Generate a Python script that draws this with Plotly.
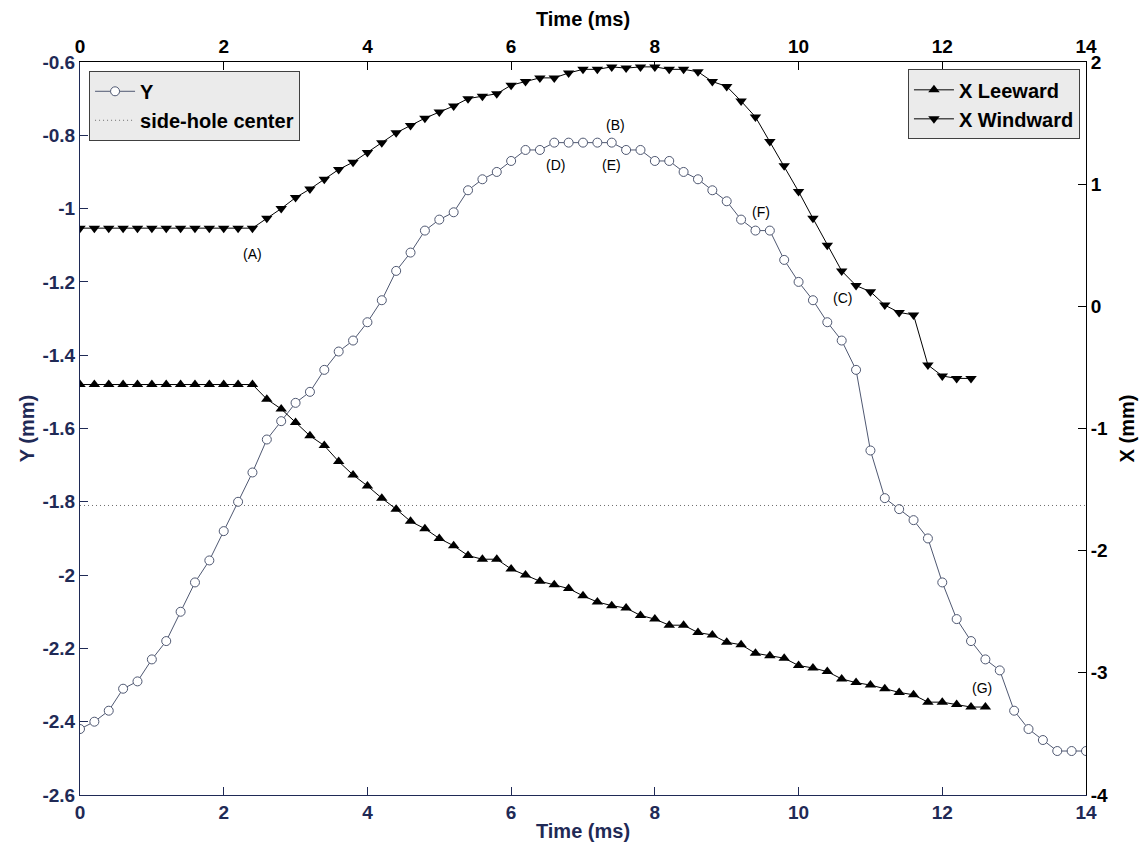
import numpy as np
import plotly.graph_objects as go

# ---- data -------------------------------------------------------------
# sampling grid, 0.2 ms between frames
time_y = np.round(np.arange(0, 14.0001, 0.2), 1)
time_leeward = np.round(np.arange(0, 12.6001, 0.2), 1)
time_windward = np.round(np.arange(0, 12.4001, 0.2), 1)

# vertical position Y (mm), left axis
y_pos = [
    -2.42, -2.40, -2.37, -2.31, -2.29, -2.23, -2.18, -2.10, -2.02, -1.96,   # 0.0 - 1.8
    -1.88, -1.80, -1.72, -1.63, -1.58, -1.53, -1.50, -1.44, -1.39, -1.36,   # 2.0 - 3.8
    -1.31, -1.25, -1.17, -1.12, -1.06, -1.03, -1.01, -0.95, -0.92, -0.90,   # 4.0 - 5.8
    -0.87, -0.84, -0.84, -0.82, -0.82, -0.82, -0.82, -0.82, -0.84, -0.84,   # 6.0 - 7.8
    -0.87, -0.87, -0.90, -0.92, -0.95, -0.98, -1.03, -1.06, -1.06, -1.14,   # 8.0 - 9.8
    -1.20, -1.25, -1.31, -1.36, -1.44, -1.66, -1.79, -1.82, -1.85, -1.90,   # 10.0 - 11.8
    -2.02, -2.12, -2.18, -2.23, -2.26, -2.37, -2.42, -2.45, -2.48, -2.48,   # 12.0 - 13.8
    -2.48,                                                                   # 14.0
]

# leeward edge X (mm), right axis
x_leeward = [
    -0.64, -0.64, -0.64, -0.64, -0.64, -0.64, -0.64, -0.64, -0.64, -0.64,   # 0.0 - 1.8
    -0.64, -0.64, -0.64, -0.76, -0.84, -0.95, -1.06, -1.14, -1.27, -1.38,   # 2.0 - 3.8
    -1.47, -1.57, -1.66, -1.76, -1.82, -1.90, -1.96, -2.04, -2.07, -2.07,   # 4.0 - 5.8
    -2.15, -2.20, -2.25, -2.28, -2.31, -2.37, -2.42, -2.45, -2.47, -2.53,   # 6.0 - 7.8
    -2.56, -2.61, -2.61, -2.67, -2.69, -2.75, -2.77, -2.84, -2.86, -2.88,   # 8.0 - 9.8
    -2.94, -2.96, -2.99, -3.05, -3.08, -3.10, -3.13, -3.16, -3.18, -3.24,   # 10.0 - 11.8
    -3.24, -3.26, -3.28, -3.28,                                              # 12.0 - 12.6
]

# windward edge X (mm), right axis
x_windward = [
    0.64, 0.64, 0.64, 0.64, 0.64, 0.64, 0.64, 0.64, 0.64, 0.64,             # 0.0 - 1.8
    0.64, 0.64, 0.64, 0.72, 0.80, 0.89, 0.96, 1.04, 1.12, 1.18,             # 2.0 - 3.8
    1.26, 1.34, 1.42, 1.48, 1.54, 1.59, 1.64, 1.70, 1.72, 1.74,             # 4.0 - 5.8
    1.81, 1.84, 1.87, 1.87, 1.91, 1.94, 1.94, 1.96, 1.95, 1.96,             # 6.0 - 7.8
    1.96, 1.94, 1.94, 1.92, 1.84, 1.80, 1.68, 1.55, 1.35, 1.15,             # 8.0 - 9.8
    0.94, 0.72, 0.50, 0.29, 0.17, 0.12, 0.01, -0.05, -0.07, -0.48,          # 10.0 - 11.8
    -0.57, -0.59, -0.59,                                                     # 12.0 - 12.4
]

side_hole_center = -1.81
time_range = [0, 14]

time_ticks = [0, 2, 4, 6, 8, 10, 12, 14]
time_tick_labels = ["0", "2", "4", "6", "8", "10", "12", "14"]
y_ticks = [-2.6, -2.4, -2.2, -2.0, -1.8, -1.6, -1.4, -1.2, -1.0, -0.8, -0.6]
y_tick_labels = ["-2.6", "-2.4", "-2.2", "-2", "-1.8", "-1.6", "-1.4", "-1.2", "-1", "-0.8", "-0.6"]
x_ticks = [-4, -3, -2, -1, 0, 1, 2]
x_tick_labels = ["-4", "-3", "-2", "-1", "0", "1", "2"]

# event labels: (text, time, Y)
event_labels = [
    ("(A)", 2.40, -1.123),
    ("(B)", 7.45, -0.771),
    ("(C)", 10.61, -1.244),
    ("(D)", 6.62, -0.880),
    ("(E)", 7.39, -0.880),
    ("(F)", 9.48, -1.010),
    ("(G)", 12.55, -2.307),
]

# ---- style ------------------------------------------------------------
FONT = "Liberation Sans, Arial, sans-serif"
NAVY = "#1f2a56"
Y_LINE = "#4f5872"
BLACK = "#000000"

fig = go.Figure()

fig.add_trace(go.Scatter(
    x=time_y, y=y_pos, name="Y", mode="lines+markers",
    line=dict(color=Y_LINE, width=1),
    marker=dict(symbol="circle", size=9, color="white",
                line=dict(color=Y_LINE, width=1)),
    xaxis="x", yaxis="y", legend="legend",
))
fig.add_trace(go.Scatter(
    x=time_range, y=[side_hole_center, side_hole_center],
    name="side-hole center", mode="lines",
    line=dict(color="#6e6e6e", width=1, dash="1px,3px"),
    xaxis="x", yaxis="y", legend="legend",
))
fig.add_trace(go.Scatter(
    x=time_leeward, y=x_leeward, name="X Leeward", mode="lines+markers",
    line=dict(color=BLACK, width=1),
    marker=dict(symbol="triangle-up", size=10, color=BLACK),
    xaxis="x2", yaxis="y2", legend="legend2",
))
fig.add_trace(go.Scatter(
    x=time_windward, y=x_windward, name="X Windward", mode="lines+markers",
    line=dict(color=BLACK, width=1),
    marker=dict(symbol="triangle-down", size=10, color=BLACK),
    xaxis="x2", yaxis="y2", legend="legend2",
))

for text, tx, ty in event_labels:
    fig.add_annotation(
        x=tx, y=ty, xref="x", yref="y", text=text, showarrow=False,
        font=dict(family=FONT, size=14, color=BLACK),
    )

tick_font_navy = dict(family=FONT, size=19, color=NAVY, weight="bold")
tick_font_black = dict(family=FONT, size=19, color=BLACK, weight="bold")
title_font_navy = dict(family=FONT, size=20, color=NAVY, weight="bold")
title_font_black = dict(family=FONT, size=20, color=BLACK, weight="bold")
legend_font = dict(family=FONT, size=20, color=BLACK, weight="bold")

fig.update_layout(
    width=1143, height=851,
    margin=dict(l=80, r=57, t=62, b=56, autoexpand=False),
    paper_bgcolor="white", plot_bgcolor="white",
    font=dict(family=FONT),
    xaxis=dict(
        range=time_range, tickvals=time_ticks, ticktext=time_tick_labels,
        ticks="inside", ticklen=8, tickcolor=NAVY, tickwidth=1,
        showline=True, linecolor=NAVY, linewidth=1,
        showgrid=False, zeroline=False, tickfont=tick_font_navy,
        title=dict(text="Time (ms)", font=title_font_navy, standoff=2),
        anchor="y", side="bottom",
    ),
    yaxis=dict(
        range=[-2.6, -0.6], tickvals=y_ticks, ticktext=y_tick_labels,
        ticks="inside", ticklen=8, tickcolor=NAVY, tickwidth=1,
        showline=True, linecolor=NAVY, linewidth=1,
        showgrid=False, zeroline=False, tickfont=tick_font_navy,
        title=dict(text="Y (mm)", font=title_font_navy, standoff=2),
        anchor="x", side="left",
    ),
    xaxis2=dict(
        range=time_range, tickvals=time_ticks, ticktext=time_tick_labels,
        ticks="inside", ticklen=8, tickcolor=BLACK, tickwidth=1,
        showline=True, linecolor=BLACK, linewidth=1,
        showgrid=False, zeroline=False, tickfont=tick_font_black,
        title=dict(text="Time (ms)", font=title_font_black, standoff=4),
        overlaying="x", side="top", anchor="y2",
    ),
    yaxis2=dict(
        range=[-4, 2], tickvals=x_ticks, ticktext=x_tick_labels,
        ticks="inside", ticklen=8, tickcolor=BLACK, tickwidth=1,
        showline=True, linecolor=BLACK, linewidth=1,
        showgrid=False, zeroline=False, tickfont=tick_font_black,
        title=dict(text="X (mm)", font=title_font_black, standoff=12),
        overlaying="y", side="right", anchor="x2",
    ),
    legend=dict(
        x=0.009, y=0.988, xanchor="left", yanchor="top",
        bgcolor="#ebebeb", bordercolor="#404040", borderwidth=1,
        font=legend_font, tracegroupgap=0, itemwidth=40,
    ),
    legend2=dict(
        x=0.994, y=0.990, xanchor="right", yanchor="top",
        bgcolor="#ebebeb", bordercolor="#404040", borderwidth=1,
        font=legend_font, tracegroupgap=0, itemwidth=40,
    ),
    showlegend=True,
)

fig.write_html("out.html")
